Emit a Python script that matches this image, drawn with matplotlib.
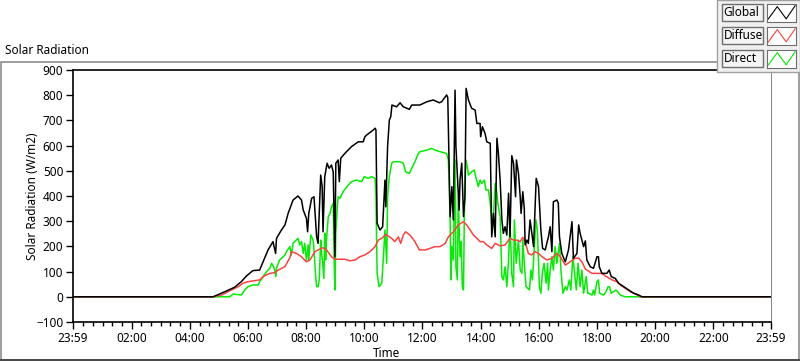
import matplotlib.pyplot as plt
from matplotlib.patches import Rectangle
from matplotlib.lines import Line2D

plt.rcParams['font.family'] = ['Noto Sans', 'DejaVu Sans']

# hours after midnight, W/m2
global_t = [-0.02, 4.80, 5.20, 5.54, 5.77, 5.95, 6.17, 6.40, 6.52, 6.69, 6.86, 6.95, 6.98, 7.15, 7.27,
            7.32, 7.38, 7.55, 7.72, 7.84, 7.90, 8.01, 8.05, 8.09, 8.19, 8.27, 8.30, 8.36, 8.41, 8.50,
            8.55, 8.58, 8.64, 8.72, 8.79, 8.87, 8.93, 8.99, 9.02, 9.10, 9.14, 9.19, 9.33, 9.56, 9.79,
            9.96, 10.02, 10.08, 10.31, 10.37, 10.40, 10.44, 10.54, 10.63, 10.71, 10.74, 10.80, 10.86,
            10.91, 10.95, 11.11, 11.23, 11.34, 11.55, 11.63, 11.91, 12.15, 12.37, 12.58, 12.66, 12.83,
            12.87, 12.95, 13.01, 13.06, 13.12, 13.15, 13.21, 13.26, 13.29, 13.35, 13.41, 13.46, 13.50,
            13.58, 13.69, 13.81, 13.87, 13.98, 14.00, 14.06, 14.15, 14.21, 14.33, 14.38, 14.44, 14.50,
            14.56, 14.61, 14.67, 14.73, 14.78, 14.84, 14.90, 14.96, 15.01, 15.07, 15.13, 15.20, 15.23,
            15.30, 15.36, 15.39, 15.45, 15.50, 15.53, 15.59, 15.64, 15.70, 15.76, 15.82, 15.91, 15.99,
            16.07, 16.13, 16.22, 16.33, 16.39, 16.45, 16.50, 16.62, 16.67, 16.71, 16.79, 16.91, 17.02,
            17.14, 17.19, 17.31, 17.37, 17.42, 17.54, 17.60, 17.65, 17.77, 17.88, 18.00, 18.05, 18.08,
            18.17, 18.34, 18.42, 18.49, 18.63, 18.74, 18.92, 19.09, 19.26, 19.43, 19.55, 23.98]
global_v = [0, 0, 20, 38, 60, 83, 104, 106, 139, 186, 219, 172, 232, 265, 285,
            305, 331, 384, 400, 384, 344, 311, 258, 331, 391, 397, 344, 238, 212, 483,
            437, 258, 477, 530, 510, 523, 496, 159, 530, 543, 457, 550, 569, 596, 615,
            615, 635, 642, 662, 669, 662, 292, 265, 278, 463, 357, 596, 701,
            715, 761, 754, 770, 754, 744, 761, 761, 774, 781, 770, 774, 801,
            790, 318, 437, 305, 820, 596, 463, 344, 463, 530, 318, 397, 827,
            781, 748, 741, 688, 688, 635, 675, 649, 615, 609, 238, 331, 238,
            629, 569, 463, 305, 252, 278, 245, 411, 238, 560, 530, 397, 543,
            490, 397, 331, 417, 351, 206, 225, 212, 305, 252, 199, 470, 437,
            265, 192, 186, 238, 278, 179, 377, 384, 371, 238, 172, 139, 186,
            298, 153, 172, 285, 252, 199, 222, 146, 119, 113, 159, 159, 119,
            93, 93, 106, 80, 73, 54, 40, 27, 14, 7, 0, 0]

diffuse_t = [-0.02, 4.80, 5.09, 5.43, 5.66, 5.83, 6.00, 6.23, 6.40, 6.52, 6.64, 6.75, 6.92, 7.04, 7.27,
             7.44, 7.49, 7.67, 7.84, 8.01, 8.13, 8.30, 8.41, 8.58, 8.70, 8.87, 8.99, 9.16, 9.33, 9.50,
             9.68, 9.85, 10.02, 10.19, 10.37, 10.48, 10.60, 10.74, 10.82, 10.94, 11.05, 11.17, 11.25,
             11.34, 11.42, 11.57, 11.74, 11.89, 12.09, 12.26, 12.43, 12.60, 12.78, 12.89, 13.06, 13.23,
             13.41, 13.52, 13.64, 13.75, 13.87, 13.98, 14.09, 14.21, 14.38, 14.50, 14.67, 14.84, 15.01,
             15.13, 15.24, 15.36, 15.45, 15.53, 15.64, 15.76, 15.87, 15.99, 16.11, 16.28, 16.45, 16.62,
             16.74, 16.91, 17.08, 17.25, 17.37, 17.48, 17.60, 17.83, 18.00, 18.17, 18.28, 18.52, 18.69,
             18.80, 18.97, 19.15, 19.33, 19.50, 23.98]
diffuse_v = [0, 0, 7, 27, 40, 54, 60, 64, 67, 80, 87, 93, 96, 106, 120,
             155, 179, 172, 159, 139, 146, 179, 186, 195, 186, 159, 149, 149, 149, 143,
             146, 159, 166, 179, 199, 225, 232, 248, 241, 232, 219, 238, 212,
             245, 258, 245, 219, 186, 186, 192, 199, 199, 212, 238, 258, 285,
             298, 285, 265, 245, 232, 219, 219, 206, 192, 212, 202, 206, 232,
             225, 225, 219, 236, 219, 172, 166, 179, 172, 159, 146, 153, 172,
             159, 126, 139, 153, 153, 139, 110, 93, 93, 93, 83, 67, 60,
             47, 34, 20, 11, 0, 0]

direct_t = [-0.02, 4.80, 5.37, 5.49, 5.77, 5.89, 6.00, 6.17, 6.35, 6.40, 6.52, 6.64, 6.75, 6.81, 6.86,
            6.92, 6.96, 6.98, 7.09, 7.27, 7.32, 7.44, 7.49, 7.55, 7.72, 7.78, 7.84, 7.90, 7.95, 8.01,
            8.07, 8.09, 8.16, 8.24, 8.27, 8.32, 8.36, 8.41, 8.45, 8.50, 8.53, 8.56, 8.61, 8.64, 8.67,
            8.70, 8.76, 8.82, 8.87, 8.93, 8.96, 8.99, 9.02, 9.07, 9.10, 9.16, 9.27, 9.45, 9.56, 9.73,
            9.91, 10.00, 10.13, 10.25, 10.37, 10.40, 10.44, 10.51, 10.60, 10.65, 10.71, 10.77, 10.80,
            10.86, 10.94, 11.00, 11.23, 11.34, 11.42, 11.55, 11.63, 11.74, 11.86, 11.91, 12.15, 12.32,
            12.43, 12.60, 12.83, 12.89, 12.95, 12.98, 13.01, 13.06, 13.12, 13.15, 13.20, 13.23, 13.29,
            13.33, 13.37, 13.41, 13.44, 13.49, 13.54, 13.58, 13.69, 13.78, 13.83, 13.92, 13.98, 14.04,
            14.13, 14.18, 14.27, 14.33, 14.40, 14.45, 14.50, 14.56, 14.59, 14.67, 14.73, 14.78, 14.84,
            14.90, 14.96, 15.01, 15.07, 15.13, 15.16, 15.22, 15.30, 15.36, 15.42, 15.45, 15.50, 15.56,
            15.68, 15.73, 15.78, 15.84, 15.90, 15.95, 16.02, 16.07, 16.12, 16.18, 16.25, 16.30, 16.33,
            16.39, 16.45, 16.50, 16.56, 16.62, 16.71, 16.76, 16.83, 16.91, 16.97, 17.05, 17.10, 17.17,
            17.22, 17.29, 17.35, 17.42, 17.48, 17.54, 17.63, 17.68, 17.71, 17.83, 17.88, 17.92, 18.00,
            18.05, 18.09, 18.23, 18.31, 18.38, 18.43, 18.49, 18.65, 18.71, 18.80, 18.97, 23.98]
direct_v = [0, 0, 0, 11, 7, 27, 40, 47, 47, 60, 80, 100, 113, 133, 125,
            106, 80, 113, 146, 165, 179, 199, 166, 212, 232, 206, 219, 172, 212, 146,
            206, 146, 245, 225, 186, 93, 40, 40, 67, 225, 172, 146, 73, 252, 146,
            225, 318, 331, 357, 371, 159, 27, 252, 357, 397, 391, 417, 444, 457, 463,
            457, 477, 470, 477, 470, 397, 93, 40, 54, 146, 265, 133, 397,
            477, 530, 536, 536, 530, 496, 490, 510, 536, 569, 576, 582, 589,
            582, 576, 569, 543, 305, 67, 200, 146, 543, 119, 67, 397, 159,
            220, 40, 27, 331, 543, 516, 483, 496, 503, 477, 437, 463, 450,
            463, 424, 424, 371, 252, 344, 450, 411, 370, 318, 80, 67, 119,
            40, 146, 292, 93, 40, 305, 133, 225, 106, 93, 225, 133, 40,
            27, 106, 67, 186, 305, 265, 40, 14, 93, 133, 54, 133, 27,
            106, 159, 106, 199, 133, 212, 106, 14, 40, 27, 67, 27, 159,
            106, 27, 133, 40, 106, 14, 80, 14, 14, 7, 27, 7, 60,
            67, 14, 7, 20, 40, 40, 14, 27, 20, 7, 0, 0]

tick_hours = [-1 / 60, 2, 4, 6, 8, 10, 12, 14, 16, 18, 20, 22, 24 - 1 / 60]
tick_labels = ['23:59', '02:00', '04:00', '06:00', '08:00', '10:00', '12:00',
               '14:00', '16:00', '18:00', '20:00', '22:00', '23:59']
series_names = ['Global', 'Diffuse', 'Direct']
series_colors = ['black', '#ff4040', '#00ee00']

fig = plt.figure(figsize=(8, 3.61), dpi=100)
W, H = 800, 361

def fx(px):
    return px / W

def fy(py):
    return 1 - py / H

# outer gray frame of the graph control
fig.add_artist(Rectangle((fx(0.5), fy(360)), fx(798.5), fy(62) - fy(360), transform=fig.transFigure,
                         fill=False, edgecolor='#8c8c8c', linewidth=1.2))
fig.add_artist(Line2D([fx(0), fx(800)], [fy(360), fy(360)], transform=fig.transFigure,
                      color='#3a3a3a', linewidth=1.2))
fig.text(fx(5), fy(50), 'Solar Radiation', fontsize=8.5, va='center', ha='left')

ax = fig.add_axes([fx(73), fy(322), fx(771 - 73), fy(70) - fy(322)])
ax.plot(direct_t, direct_v, color=series_colors[2], linewidth=1.1)
ax.plot(diffuse_t, diffuse_v, color=series_colors[1], linewidth=1.1)
ax.plot(global_t, global_v, color=series_colors[0], linewidth=1.1)

ax.set_xlim(-1 / 60, 24 - 1 / 60)
ax.set_ylim(-100, 900)
ax.set_yticks(range(-100, 1000, 100))
ax.set_xticks(tick_hours)
ax.set_xticklabels(tick_labels)
ax.set_xticks([h / 3 for h in range(72) if h % 6 != 0], minor=True)
ax.tick_params(axis='both', labelsize=8.5, length=5, width=1, pad=2)
ax.tick_params(axis='x', which='minor', length=3, width=1)
ax.set_xlabel('Time', fontsize=8.5, labelpad=1)
ax.xaxis.set_label_coords(0.449, -0.098)
ax.set_ylabel('Solar Radiation (W/m2)', fontsize=8.5)
ax.yaxis.set_label_coords(-0.048, 0.5)
for s in ['left', 'bottom', 'top']:
    ax.spines[s].set_linewidth(1.2)
ax.spines['right'].set_color('#8c8c8c')

# legend panel in the top-right corner
fig.add_artist(Rectangle((fx(717), fy(72)), fx(83), fy(0) - fy(72), transform=fig.transFigure,
                         facecolor='#f0f0f0', edgecolor='#a0a0a0', linewidth=1, zorder=5))
for i, (name, col) in enumerate(zip(series_names, series_colors)):
    top = 4 + i * 23
    fig.add_artist(Rectangle((fx(721.5), fy(top + 17)), fx(41), fy(top) - fy(top + 17),
                             transform=fig.transFigure, facecolor='#f4f4f4',
                             edgecolor='#6e6e6e', linewidth=1, zorder=6))
    fig.text(fx(723.5), fy(top + 8.5), name, fontsize=8.5, va='center', ha='left', zorder=7)
    sw = fig.add_axes([fx(767), fy(top + 17.5), fx(29), fy(top) - fy(top + 17.5)], zorder=8)
    # zigzag sample line: up, down, up
    sw.plot([0, 1, 2, 3], [0.15, 0.85, 0.15, 0.9], color=col, linewidth=0.8)
    sw.set_xlim(-0.15, 3.1)
    sw.set_ylim(0, 1)
    sw.set_xticks([])
    sw.set_yticks([])
    for s in sw.spines.values():
        s.set_color('#6e6e6e')

fig.savefig('out.png', dpi=100)
